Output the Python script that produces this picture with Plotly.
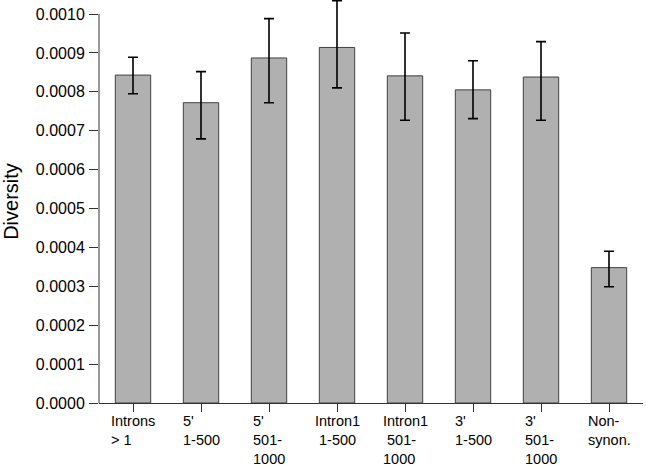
import plotly.graph_objects as go

categories = ["Introns<br>> 1", "5'<br>1-500", "5'<br>501-<br>1000", "Intron1<br> 1-500",
              "Intron1<br> 501-<br>1000", "3'<br>1-500", "3'<br>501-<br>1000", "Non-<br>synon."]
values = [0.000843, 0.000772, 0.000887, 0.000914, 0.000841, 0.000805, 0.000838, 0.000348]
err_plus = [0.000046, 0.000080, 0.000101, 0.000120, 0.000110, 0.000075, 0.000091, 0.000042]
err_minus = [0.000048, 0.000093, 0.000115, 0.000104, 0.000114, 0.000074, 0.000111, 0.000049]
y_ticks = [0.0000, 0.0001, 0.0002, 0.0003, 0.0004, 0.0005, 0.0006, 0.0007, 0.0008, 0.0009, 0.0010]

xs = list(range(len(categories)))

fig = go.Figure()
fig.add_trace(go.Bar(
    x=xs, y=values, width=0.52,
    marker=dict(color="#b0b0b0", line=dict(color="#404040", width=1)),
    error_y=dict(type="data", symmetric=False, array=err_plus, arrayminus=err_minus,
                 color="black", thickness=1.6, width=5),
    cliponaxis=False,
))

for x, lab in zip(xs, categories):
    fig.add_annotation(x=x, y=0, xref="x", yref="paper", text=lab, showarrow=False,
                       xanchor="center", yanchor="top", align="left", yshift=-9, borderpad=0,
                       font=dict(family="Liberation Sans, Arial", size=14.5, color="black"))

# y axis line only up to the top tick
fig.add_shape(type="line", xref="paper", yref="y", x0=0, x1=0, y0=0, y1=y_ticks[-1],
              line=dict(color="#333", width=1))

fig.update_layout(
    width=646, height=469,
    margin=dict(l=99, r=3, t=0, b=66, autoexpand=False),
    paper_bgcolor="white", plot_bgcolor="white",
    showlegend=False,
    font=dict(family="Liberation Sans, Arial", size=16, color="black"),
    xaxis=dict(range=[-0.5, 7.5], showticklabels=False, tickmode="array", tickvals=xs,
               tickson="boundaries", ticks="outside", ticklen=8, tickcolor="#333",
               showline=True, linecolor="#333", linewidth=1, showgrid=False, zeroline=False,
               automargin=False),
    yaxis=dict(range=[0, 0.001036], tickmode="array", tickvals=y_ticks,
               ticktext=[f"{v:.4f}" for v in y_ticks], ticks="outside", ticklen=9,
               tickcolor="#333", showline=False, showgrid=False, zeroline=False,
               ticklabelstandoff=1, automargin=False,
               title=dict(text="Diversity", font=dict(size=20), standoff=14)),
)

fig.write_html("out.html", config={"displayModeBar": False},
               post_script="document.body.style.margin='0';")
